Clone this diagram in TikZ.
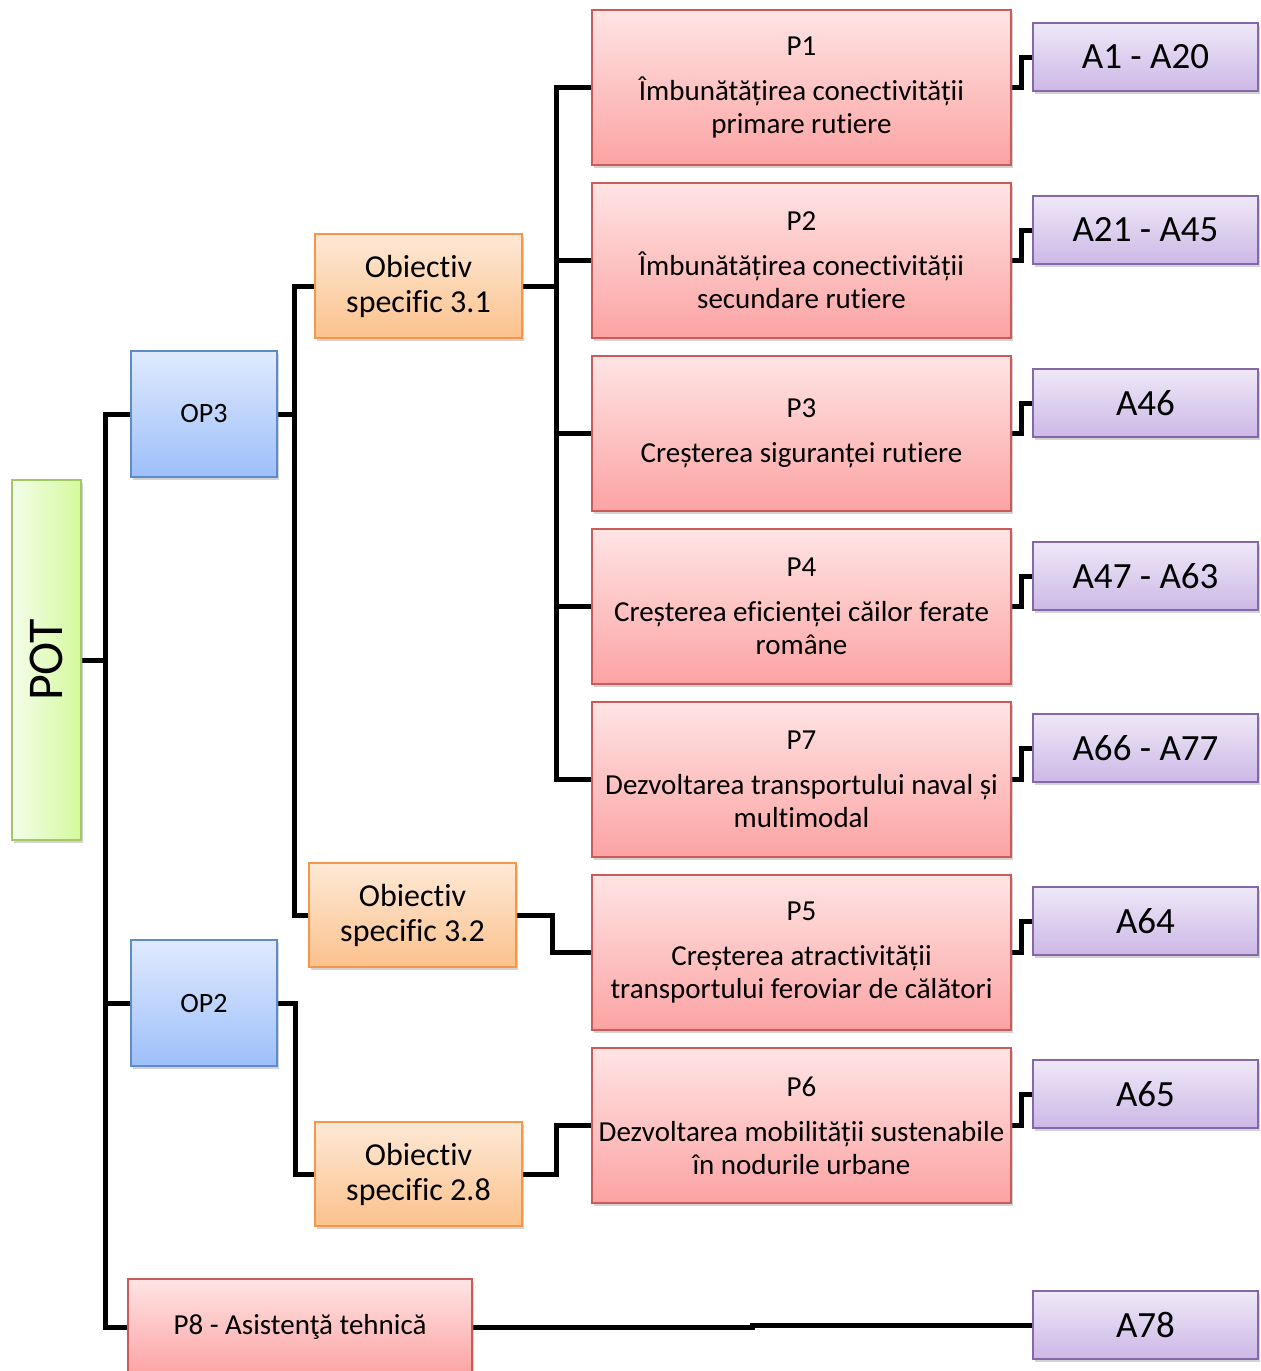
\documentclass[tikz,border=0pt]{standalone}
\usepackage{fontspec}
\setmainfont{Carlito}[Ligatures={NoCommon,NoContextual}, RawFeature={-liga;-dlig;-clig}]
\usetikzlibrary{shadows,calc}
\definecolor{potL}{HTML}{F4FDEA}
\definecolor{potR}{HTML}{D4F99C}
\definecolor{potD}{HTML}{A3C866}
\definecolor{opT}{HTML}{E0EAFE}
\definecolor{opB}{HTML}{9DBFFA}
\definecolor{opD}{HTML}{5F8BC8}
\definecolor{obT}{HTML}{FEE9D6}
\definecolor{obB}{HTML}{FBC18C}
\definecolor{obD}{HTML}{F79646}
\definecolor{prT}{HTML}{FFE4E4}
\definecolor{prB}{HTML}{FCA3A3}
\definecolor{prD}{HTML}{CC5A58}
\definecolor{acT}{HTML}{EFE8F8}
\definecolor{acB}{HTML}{CCB8E6}
\definecolor{acD}{HTML}{8468A8}
\pgfdeclarelayer{bg}
\pgfsetlayers{bg,main}
\tikzset{
  boxbase/.style={draw, line width=1.5pt, inner sep=0pt, align=center,
    drop shadow={opacity=0.35, shadow xshift=2pt, shadow yshift=-3pt}},
  potbox/.style={boxbase, draw=potD, left color=potL, right color=potR,
    minimum width=69pt, minimum height=360pt, font=\fontsize{50}{55}\selectfont},
  opbox/.style={boxbase, draw=opD, top color=opT, bottom color=opB,
    minimum width=146pt, minimum height=126pt, font=\fontsize{28}{32}\selectfont},
  obbox/.style={boxbase, draw=obD, top color=obT, bottom color=obB,
    minimum width=207pt, minimum height=104pt, font=\fontsize{32}{35}\selectfont},
  prbox/.style={boxbase, draw=prD, top color=prT, bottom color=prB,
    minimum width=419pt, minimum height=155pt, font=\fontsize{29}{33}\selectfont},
  p8box/.style={boxbase, draw=prD, top color=prT, bottom color=prB,
    minimum width=344pt, minimum height=96pt, font=\fontsize{29}{33}\selectfont},
  acbox/.style={boxbase, draw=acD, top color=acT, bottom color=acB,
    minimum width=225pt, minimum height=68pt, font=\fontsize{37}{40}\selectfont},
  conn/.style={line width=5pt, black}
}
\begin{document}
\begin{tikzpicture}[x=1pt, y=-1pt]
\useasboundingbox (0,0) rectangle (1261,1371);
% level 0
\node[potbox] (pot) at (46.5,660) {\rotatebox{90}{POT}};
% level 1
\node[opbox] (op3) at (204,414) {OP3};
\node[opbox] (op2) at (204,1003) {OP2};
\node[p8box] (p8) at (300,1327) {P8 - Asistenţă tehnică};
% level 2
\node[obbox] (o31) at (418.5,286) {Obiectiv\\specific 3.1};
\node[obbox] (o32) at (412.5,915) {Obiectiv\\specific 3.2};
\node[obbox] (o28) at (418.5,1174) {Obiectiv\\specific 2.8};
% level 3
\node[prbox] (p1) at (801.5,87.5) {P1\\[12pt]Îmbunătățirea conectivității\\primare rutiere};
\node[prbox] (p2) at (801.5,260.5) {P2\\[12pt]Îmbunătățirea conectivității\\secundare rutiere};
\node[prbox] (p3) at (801.5,433.5) {P3\\[12pt]Creșterea siguranței rutiere};
\node[prbox] (p4) at (801.5,606.5) {P4\\[12pt]Creșterea eficienței căilor ferate\\române};
\node[prbox] (p7) at (801.5,779.5) {P7\\[12pt]Dezvoltarea transportului naval și\\multimodal};
\node[prbox] (p5) at (801.5,952.5) {P5\\[12pt]Creșterea atractivității\\transportului feroviar de călători};
\node[prbox] (p6) at (801.5,1125.5) {P6\\[12pt]Dezvoltarea mobilității sustenabile\\în nodurile urbane};
% level 4
\node[acbox] (a1) at (1145.5,57) {A1 - A20};
\node[acbox] (a21) at (1145.5,230) {A21 - A45};
\node[acbox] (a46) at (1145.5,403) {A46};
\node[acbox] (a47) at (1145.5,576) {A47 - A63};
\node[acbox] (a66) at (1145.5,748) {A66 - A77};
\node[acbox] (a64) at (1145.5,921) {A64};
\node[acbox] (a65) at (1145.5,1094) {A65};
\node[acbox] (a78) at (1145.5,1325) {A78};
% connectors
\begin{pgfonlayer}{bg}
\draw[conn] (pot.east) -- ++(24,0) |- (op3.west);
\draw[conn] (pot.east) -- ++(24,0) |- (op2.west);
\draw[conn] (pot.east) -- ++(24,0) |- (p8.west);
\draw[conn] (op3.east) -- ++(17,0) |- (o31.west);
\draw[conn] (op3.east) -- ++(17,0) |- (o32.west);
\draw[conn] (op2.east) -- ++(18,0) |- (o28.west);
\foreach \p in {p1,p2,p3,p4,p7}
  \draw[conn] (o31.east) -- ++(34,0) |- (\p.west);
\draw[conn] (o32.east) -- ++(36,0) |- (p5.west);
\draw[conn] (o28.east) -- ++(34,0) |- (p6.west);
\draw[conn] (p1.east) -- ++(10,0) |- (a1.west);
\draw[conn] (p2.east) -- ++(10,0) |- (a21.west);
\draw[conn] (p3.east) -- ++(10,0) |- (a46.west);
\draw[conn] (p4.east) -- ++(10,0) |- (a47.west);
\draw[conn] (p7.east) -- ++(10,0) |- (a66.west);
\draw[conn] (p5.east) -- ++(10,0) |- (a64.west);
\draw[conn] (p6.east) -- ++(10,0) |- (a65.west);
\draw[conn] (p8.east) -- ++(280,0) |- (a78.west);
\end{pgfonlayer}
\end{tikzpicture}
\end{document}
